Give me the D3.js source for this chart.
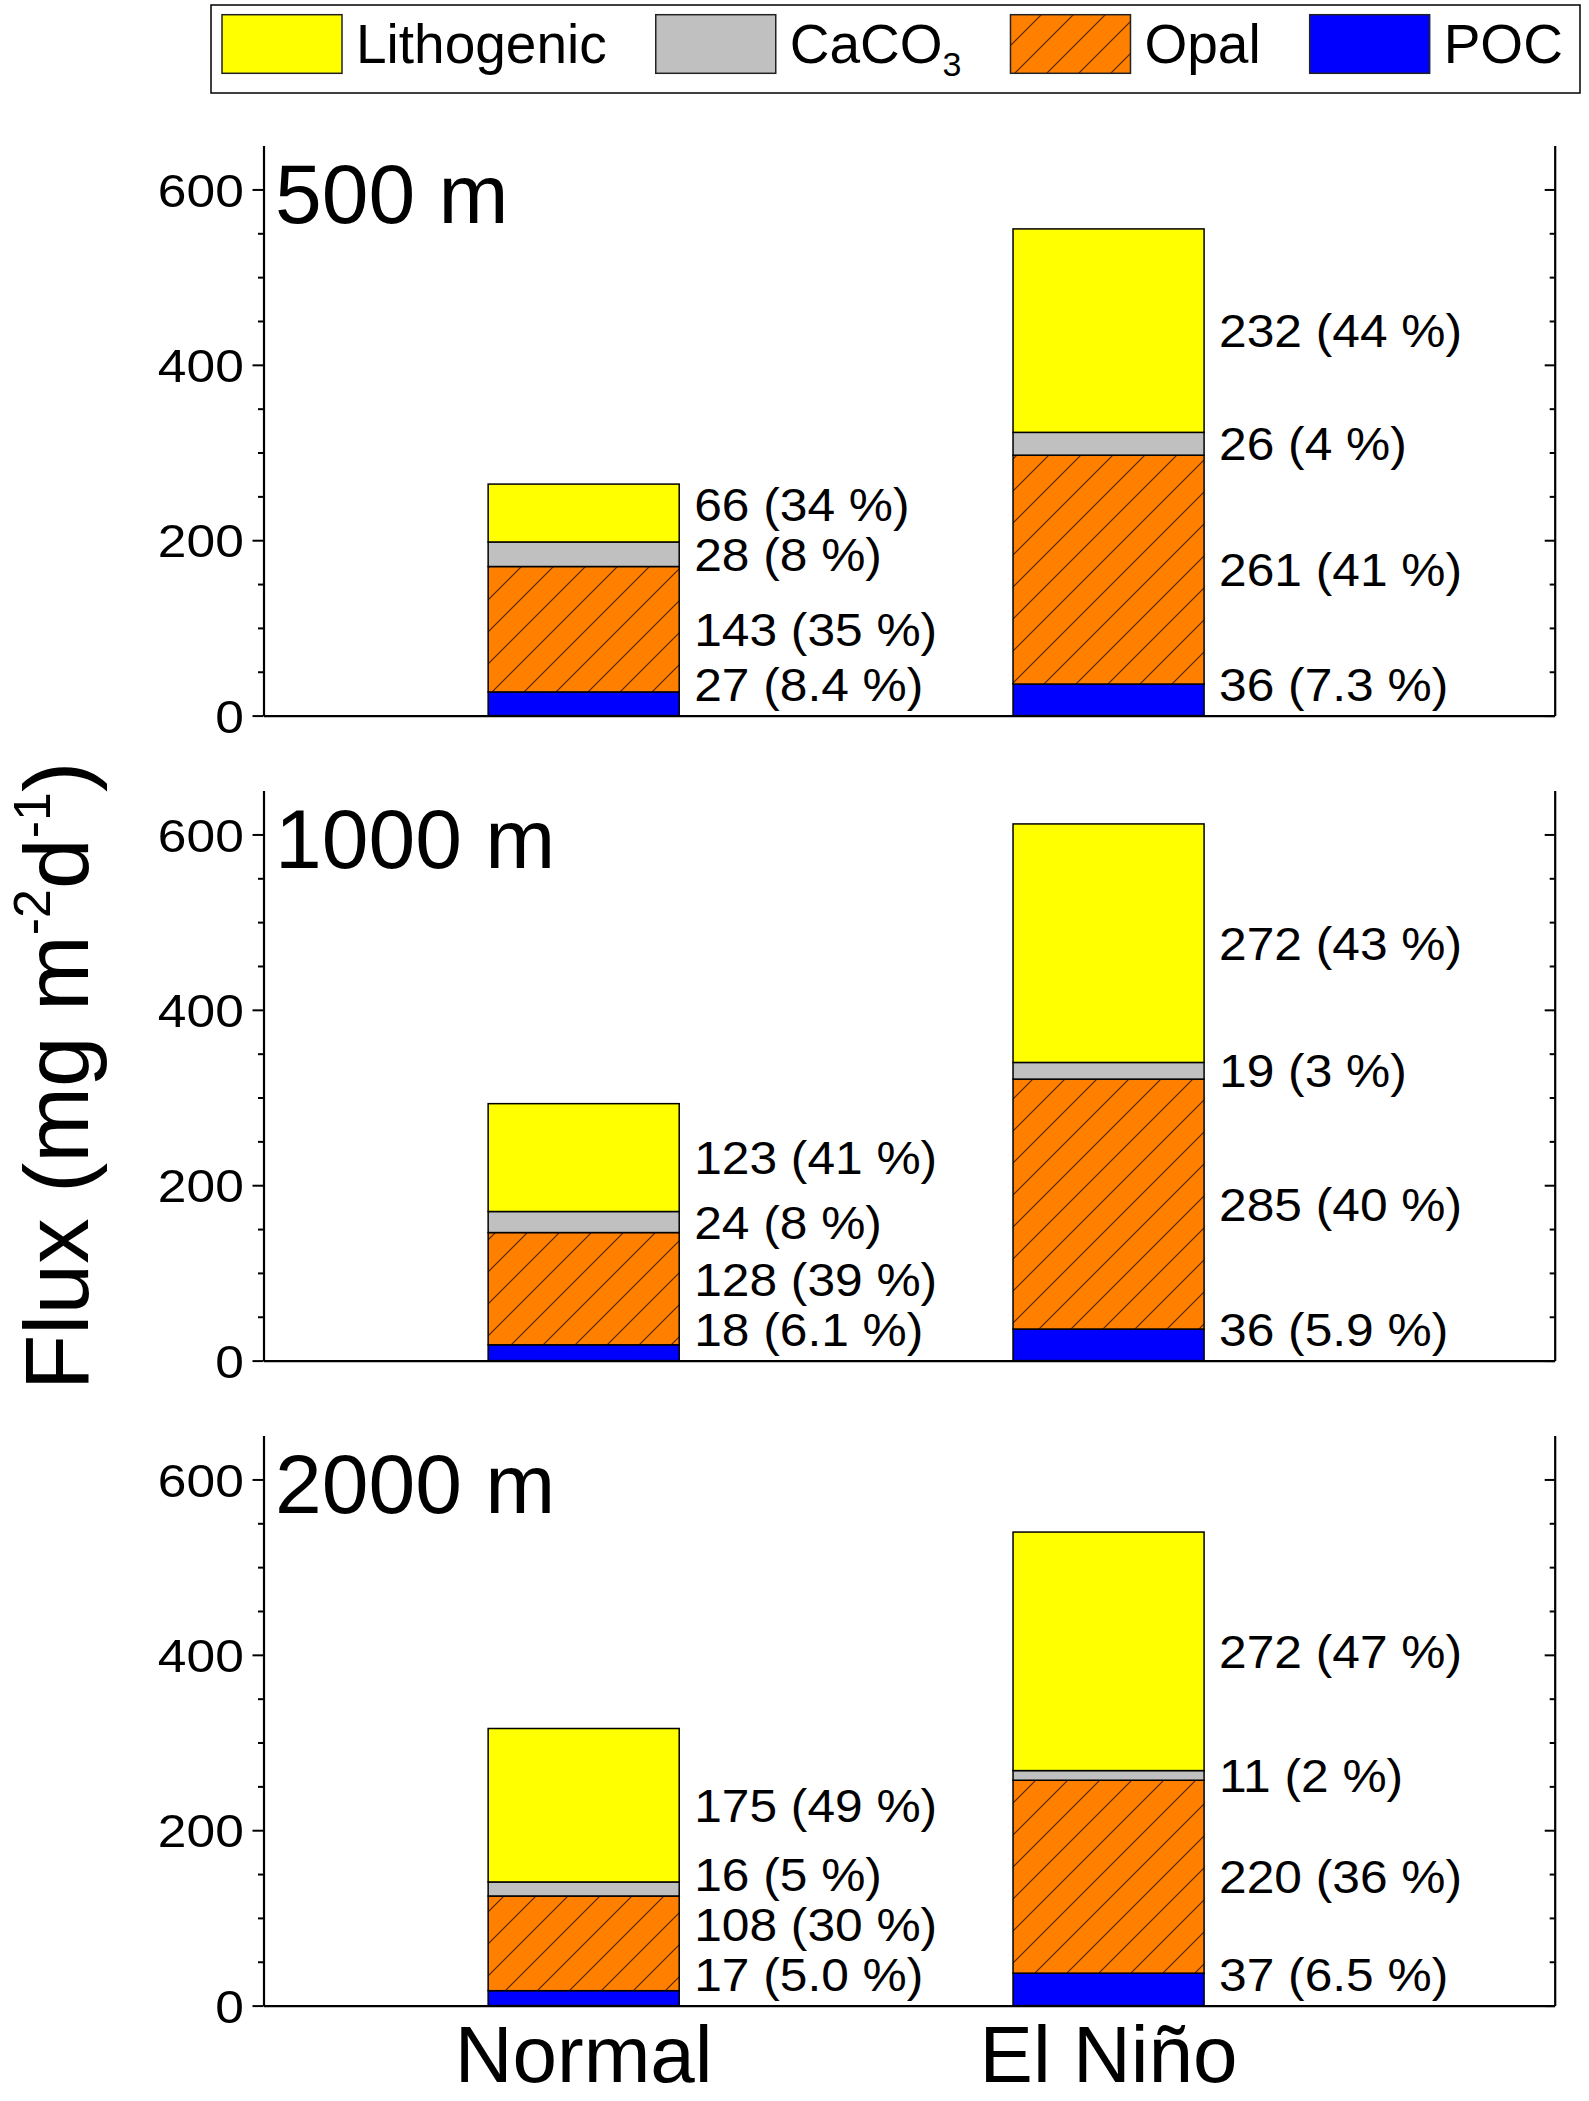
<!DOCTYPE html>
<html>
<head>
<meta charset="utf-8">
<script src="https://cdn.jsdelivr.net/npm/d3@7"></script>
<style>
    body { margin: 0; background: #fff; }
    text { font-family: "Liberation Sans", Arial, sans-serif; fill: #000; }
</style>
</head>
<body>
<div id="chart"></div>
<script>
// stack order, bottom to top
const components = ["POC", "Opal", "CaCO3", "Lithogenic"];
const legendOrder = ["Lithogenic", "CaCO3", "Opal", "POC"];
const conditions = ["Normal", "El Niño"];
const depths = ["500 m", "1000 m", "2000 m"];

// fluxes (mg m-2 d-1), same order as components
const normal500 = [27, 143, 28, 66];
const elNino500 = [36, 261, 26, 232];
const normal1000 = [18, 128, 24, 123];
const elNino1000 = [36, 285, 19, 272];
const normal2000 = [17, 108, 16, 175];
const elNino2000 = [37, 220, 11, 272];

// percentages printed next to the bars
const normalPct500 = ["8.4", "35", "8", "34"];
const elNinoPct500 = ["7.3", "41", "4", "44"];
const normalPct1000 = ["6.1", "39", "8", "41"];
const elNinoPct1000 = ["5.9", "40", "3", "43"];
const normalPct2000 = ["5.0", "30", "5", "49"];
const elNinoPct2000 = ["6.5", "36", "2", "47"];

const yTicks = [0, 200, 400, 600];
const yMinorTicks = [50, 100, 150, 250, 300, 350, 450, 500, 550];

const fluxByDepth = [
    [normal500, elNino500],
    [normal1000, elNino1000],
    [normal2000, elNino2000],
];
const pctByDepth = [
    [normalPct500, elNinoPct500],
    [normalPct1000, elNinoPct1000],
    [normalPct2000, elNinoPct2000],
];

const fills = {
    POC: "#0000ff",
    Opal: "url(#hatch)",
    CaCO3: "#c0c0c0",
    Lithogenic: "#ffff00",
};

const width = 1589;
const height = 2101;
const leftX = 263.5;
const rightX = 1554.7;
const firstBase = 715.6;
const panelStep = 645;
const panelHeight = 570;

const svg = d3
    .select("#chart")
    .append("svg")
    .attr("width", width)
    .attr("height", height);

const hatch = svg
    .append("defs")
    .append("pattern")
    .attr("id", "hatch")
    .attr("patternUnits", "userSpaceOnUse")
    .attr("width", 32)
    .attr("height", 32);
hatch.append("rect").attr("width", 32).attr("height", 32).attr("fill", "#ff8000");
hatch
    .append("path")
    .attr("d", "M-8,8L8,-8M0,32L32,0M24,40L40,24")
    .attr("stroke", "#4a2000")
    .attr("stroke-width", 1.1);

const x = d3.scaleLinear().domain([0.39, 2.85]).range([leftX, rightX]);
const barWidth = x(1.364) - x(1);

depths.forEach((depth, p) => {
    const base = firstBase + p * panelStep;
    const y = d3
        .scaleLinear()
        .domain([0, 650])
        .range([base, base - panelHeight]);
    const panel = svg.append("g").attr("class", "panel");

    const rows = conditions.map((cond, c) => {
        const row = { cond };
        components.forEach((k, i) => (row[k] = fluxByDepth[p][c][i]));
        return row;
    });
    const series = d3.stack().keys(components)(rows);

    // stacked bars
    panel
        .selectAll("g.layer")
        .data(series)
        .enter()
        .append("g")
        .attr("class", "layer")
        .attr("fill", (d) => fills[d.key])
        .selectAll("rect")
        .data((d) => d)
        .enter()
        .append("rect")
        .attr("x", (d, c) => x(c + 1) - barWidth / 2)
        .attr("y", (d) => y(d[1]))
        .attr("width", barWidth)
        .attr("height", (d) => y(d[0]) - y(d[1]))
        .attr("stroke", "#000")
        .attr("stroke-width", 1.5);

    // value labels, nudged upward so they do not collide
    conditions.forEach((cond, c) => {
        let prev = null;
        const placed = series.map((s, i) => {
            const mid = y((s[c][0] + s[c][1]) / 2);
            const yy = i === 0 ? Math.min(mid, base - 31) : Math.min(mid, prev - 50);
            prev = yy;
            return yy;
        });
        series.forEach((s, i) => {
            panel
                .append("text")
                .attr("transform", `translate(${x(c + 1) + barWidth / 2 + 15},${placed[i]}) scale(1.08,1)`)
                .attr("dy", "0.36em")
                .style("font-size", "46px")
                .text(`${fluxByDepth[p][c][i]} (${pctByDepth[p][c][i]} %)`);
        });
    });

    // left axis
    const axLeft = panel
        .append("g")
        .attr("transform", `translate(${leftX},0)`)
        .call(d3.axisLeft(y).tickValues(yTicks).tickSize(11).tickSizeOuter(0));
    axLeft
        .selectAll(".tick text")
        .attr("x", 0)
        .attr("dy", "0.36em")
        .attr("transform", "translate(-19.7,0) scale(1.12,1)")
        .style("font-size", "46px")
        .style("font-family", '"Liberation Sans", Arial, sans-serif');
    panel
        .append("g")
        .attr("transform", `translate(${leftX},0)`)
        .call(d3.axisLeft(y).tickValues(yMinorTicks).tickSize(5.5).tickFormat(""))
        .select(".domain")
        .remove();

    // right axis, ticks inward
    panel
        .append("g")
        .attr("transform", `translate(${rightX},0)`)
        .call(d3.axisLeft(y).tickValues(yTicks).tickSize(10).tickSizeOuter(0).tickFormat(""));
    panel
        .append("g")
        .attr("transform", `translate(${rightX},0)`)
        .call(d3.axisLeft(y).tickValues(yMinorTicks).tickSize(5).tickFormat(""))
        .select(".domain")
        .remove();

    // bottom axis line
    panel
        .append("g")
        .attr("transform", `translate(0,${base})`)
        .call(d3.axisBottom(x).tickValues([]).tickSizeOuter(0));

    panel.selectAll(".domain").attr("stroke", "#000").attr("stroke-width", 2.2);
    panel.selectAll(".tick line").attr("stroke", "#000").attr("stroke-width", 2);

    // depth title
    panel
        .append("text")
        .attr("x", 275)
        .attr("y", base - panelHeight + 77)
        .style("font-size", "84px")
        .text(depth);

    if (p === depths.length - 1) {
        panel
            .selectAll("text.cat")
            .data(conditions)
            .enter()
            .append("text")
            .attr("class", "cat")
            .attr("x", (d, c) => x(c + 1))
            .attr("y", 2082)
            .attr("text-anchor", "middle")
            .style("font-size", "80px")
            .text((d) => d);
    }
});

// y axis title
const yTitle = svg
    .append("text")
    .attr("transform", "translate(88,1076) rotate(-90)")
    .attr("text-anchor", "middle")
    .style("font-size", "91px");
yTitle.append("tspan").text("Flux (mg m");
yTitle.append("tspan").attr("dy", -38).style("font-size", "52px").text("-2");
yTitle.append("tspan").attr("dy", 38).text("d");
yTitle.append("tspan").attr("dy", -38).style("font-size", "52px").text("-1");
yTitle.append("tspan").attr("dy", 38).text(")");

// legend
const legend = svg.append("g").attr("class", "legend");
legend
    .append("rect")
    .attr("x", 211)
    .attr("y", 5)
    .attr("width", 1369)
    .attr("height", 88)
    .attr("fill", "#fff")
    .attr("stroke", "#000")
    .attr("stroke-width", 1.5);
let lx = 222;
legendOrder.forEach((k) => {
    legend
        .append("rect")
        .attr("x", lx)
        .attr("y", 14.7)
        .attr("width", 120)
        .attr("height", 58.6)
        .attr("fill", fills[k])
        .attr("stroke", "#222")
        .attr("stroke-width", 1.5);
    const t = legend
        .append("text")
        .attr("x", lx + 134)
        .attr("y", 63.3)
        .style("font-size", "55px");
    if (k === "CaCO3") {
        t.append("tspan").text("CaCO");
        t.append("tspan").attr("dy", 13).style("font-size", "34px").text("3");
    } else {
        t.text(k);
    }
    lx = lx + 134 + t.node().getComputedTextLength() + 49;
});
</script>
</body>
</html>
